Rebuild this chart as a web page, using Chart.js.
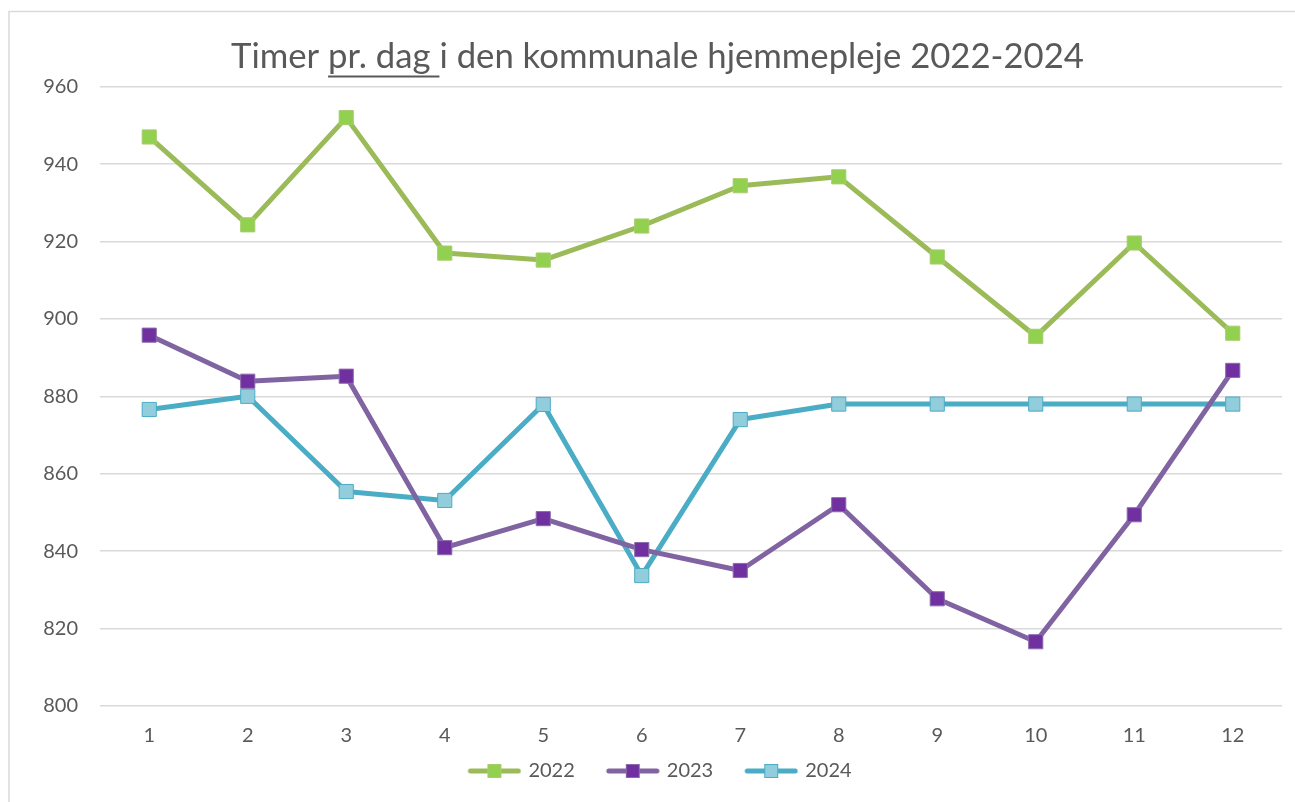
<!DOCTYPE html>
<html>
<head>
<meta charset="utf-8">
<script src="https://cdn.jsdelivr.net/npm/chart.js@4/dist/chart.umd.min.js"></script>
<style>
  html, body { margin: 0; padding: 0; background: #ffffff; }
  #wrap { position: relative; width: 1295px; height: 802px; }
  canvas { display: block; }
</style>
</head>
<body>
<div id="wrap"><canvas id="c" width="1295" height="802"></canvas></div>
<script>
const TITLE = "Timer pr. dag i den kommunale hjemmepleje 2022-2024";
const UNDERLINED = "pr. dag ";
const categories = ["1","2","3","4","5","6","7","8","9","10","11","12"];
const seriesNames = ["2022","2023","2024"];
const values2022 = [947, 924.3, 952, 917, 915.2, 924, 934.4, 936.7, 916, 895.5, 919.6, 896.3];
const values2023 = [895.8, 883.9, 885.2, 840.9, 848.4, 840.4, 835, 852, 827.7, 816.6, 849.4, 886.7];
const values2024 = [876.6, 880, 855.4, 853.1, 877.9, 833.7, 874, 878, 878, 878, 878, 878];
const yMin = 800, yMax = 960, yStep = 20;

const FONT = "Lato, 'Open Sans', sans-serif";
const TEXT = "#595959";
const styles = [
  { line: "#9BBB59", fill: "#92D050", border: "#A9CB6E" },
  { line: "#8064A2", fill: "#7030A0", border: "#8A6BAE" },
  { line: "#4BACC6", fill: "#92CDDC", border: "#4BACC6" }
];

const LEAD = 24;   // transparent lead-in of legend icon (spacing between items)
function legendIcon(s) {
  const c = document.createElement("canvas");
  c.width = 54 + LEAD; c.height = 18;
  const x = c.getContext("2d");
  const x0 = LEAD;
  x.strokeStyle = s.line; x.lineWidth = 5; x.lineCap = "round";
  x.beginPath(); x.moveTo(x0 + 3, 9); x.lineTo(x0 + 51, 9); x.stroke();
  x.fillStyle = s.fill; x.fillRect(x0 + 20, 2, 14, 14);
  x.strokeStyle = s.border; x.lineWidth = 1; x.strokeRect(x0 + 20.5, 2.5, 13, 13);
  return c;
}
const icons = styles.map(legendIcon);

const allValues = [values2022, values2023, values2024];
const datasets = seriesNames.map((n, i) => ({
  label: n,
  data: allValues[i],
  borderColor: styles[i].line,
  backgroundColor: styles[i].fill,
  borderWidth: 5,
  borderJoinStyle: "round",
  borderCapStyle: "round",
  tension: 0,
  pointStyle: "rect",
  pointRadius: 10,
  pointHoverRadius: 10,
  pointBackgroundColor: styles[i].fill,
  pointBorderColor: styles[i].border,
  pointBorderWidth: 1
}));

const frame = {
  id: "frame",
  afterLayout(chart) {
    if (chart.titleBlock) chart.titleBlock.left += 33;
    if (chart.legend) chart.legend.left += 16;
  },
  beforeDraw(chart) {
    const ctx = chart.ctx;
    ctx.save();
    ctx.fillStyle = "#ffffff";
    ctx.fillRect(0, 0, chart.width, chart.height);
    ctx.strokeStyle = "#d9d9d9";
    ctx.lineWidth = 1.5;
    ctx.beginPath();
    ctx.moveTo(9, chart.height + 5);
    ctx.lineTo(9, 11.5);
    ctx.lineTo(chart.width + 5, 11.5);
    ctx.stroke();
    ctx.restore();
  },
  afterDraw(chart) {
    const tb = chart.titleBlock;
    if (!tb) return;
    const o = chart.options.plugins.title;
    const ctx = chart.ctx;
    ctx.save();
    ctx.font = "normal " + o.font.size + "px " + FONT;
    const total = ctx.measureText(TITLE).width;
    const cx = (tb.left + tb.right) / 2;
    const start = cx - total / 2;
    const pre = ctx.measureText(TITLE.slice(0, TITLE.indexOf(UNDERLINED))).width;
    const w = ctx.measureText(UNDERLINED).width;
    const y = tb.top + o.padding.top + o.font.size * 1.2 / 2 + o.font.size * 0.57;
    ctx.strokeStyle = TEXT;
    ctx.lineWidth = 2;
    ctx.beginPath();
    ctx.moveTo(start + pre, y);
    ctx.lineTo(start + pre + w, y);
    ctx.stroke();
    ctx.restore();
  }
};

new Chart(document.getElementById("c"), {
  type: "line",
  data: { labels: categories, datasets },
  plugins: [frame],
  options: {
    responsive: false,
    animation: false,
    events: [],
    layout: { padding: { left: 0, right: 13, top: 0, bottom: 11 } },
    plugins: {
      title: {
        display: true,
        text: TITLE,
        color: TEXT,
        font: { family: FONT, size: 34.7, weight: "normal" },
        padding: { top: 36, bottom: 9 }
      },
      legend: {
        position: "bottom",
        labels: {
          color: TEXT,
          font: { family: FONT, size: 20 },
          usePointStyle: true,
          pointStyleWidth: 54 + LEAD - 6,
          padding: 10,
          generateLabels(chart) {
            return chart.data.datasets.map((d, i) => ({
              text: d.label,
              fillStyle: styles[i].fill,
              strokeStyle: styles[i].line,
              lineWidth: 0,
              pointStyle: icons[i],
              fontColor: TEXT,
              hidden: false,
              datasetIndex: i
            }));
          }
        }
      },
      tooltip: { enabled: false }
    },
    scales: {
      x: {
        offset: true,
        afterFit(s) { s.height = s.height - 15; },
        grid: { display: false, drawTicks: false },
        border: { display: false },
        ticks: { color: TEXT, font: { family: FONT, size: 20 }, padding: 18, maxRotation: 0 }
      },
      y: {
        min: yMin, max: yMax,
        afterFit(s) { s.width = 100; },
        grid: { color: "#d9d9d9", lineWidth: 1.5, drawTicks: false },
        border: { display: false },
        ticks: { stepSize: yStep, color: TEXT, font: { family: FONT, size: 20 }, padding: 22 }
      }
    }
  }
});
</script>
</body>
</html>
